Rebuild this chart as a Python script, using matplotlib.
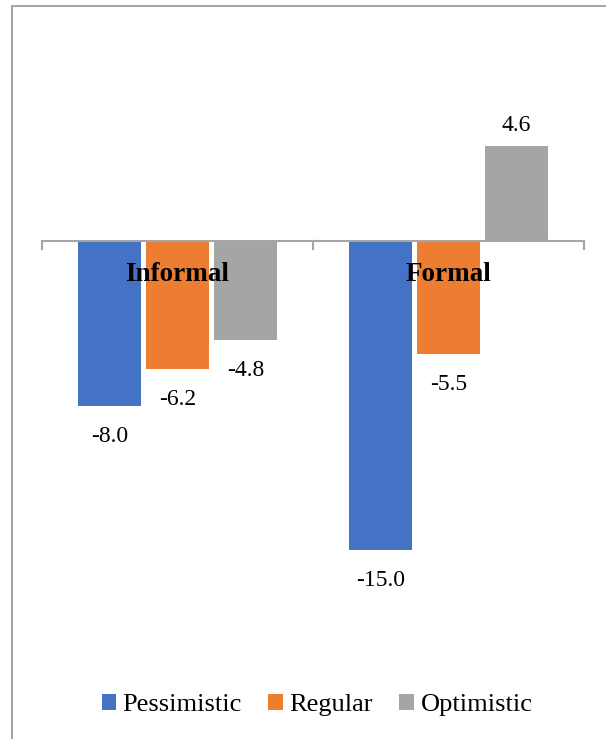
import matplotlib.pyplot as plt
import numpy as np
from matplotlib.patches import Rectangle

# Data
categories = ['Informal', 'Formal']
scenarios = ['Pessimistic', 'Regular', 'Optimistic']
pessimistic = [-8.0, -15.0]
regular = [-6.2, -5.5]
optimistic = [-4.8, 4.6]
colors = ['#4472C4', '#ED7D31', '#A5A5A5']

plt.rcParams['font.family'] = ['Liberation Serif', 'DejaVu Serif']

fig = plt.figure(figsize=(6.06, 7.39), dpi=100)
ax = fig.add_axes([42 / 606, 86 / 739, 542 / 606, 618 / 739])

x = np.arange(len(categories))
width = 0.234
step = 0.251
series = [pessimistic, regular, optimistic]

for i, (name, vals, col) in enumerate(zip(scenarios, series, colors)):
    pos = x + (i - 1) * step
    ax.bar(pos, vals, width=width, color=col, label=name)
    for p, v in zip(pos, vals):
        if v < 0:
            ax.annotate(f'{v:.1f}', (p, v), xytext=(0, -22), textcoords='offset points',
                        ha='center', va='center', fontsize=17)
        else:
            ax.annotate(f'{v:.1f}', (p, v), xytext=(0, 15), textcoords='offset points',
                        ha='center', va='center', fontsize=17)

# category labels sit just under the zero line
for xi, cat in zip(x, categories):
    ax.annotate(cat, (xi, 0), xytext=(0, -24), textcoords='offset points',
                ha='center', va='center', fontsize=19.5, fontweight='bold')

ax.set_xlim(-0.5, 1.5)
ax.set_ylim(-20, 10)
ax.axhline(0, color='#A6A6A6', linewidth=1.5, zorder=3)
for t in [-0.5, 0.5, 1.5]:
    ax.plot([t, t], [0, -0.4], color='#A6A6A6', linewidth=1.5, clip_on=False, zorder=3)
for s in ax.spines.values():
    s.set_visible(False)
ax.set_xticks([])
ax.set_yticks([])

ax.legend(loc='center', bbox_to_anchor=(317 / 606, 34 / 739), bbox_transform=fig.transFigure,
          ncol=3, frameon=False, fontsize=19, handlelength=0.55, handleheight=0.55,
          handletextpad=0.25, columnspacing=1.0)

# chart border (runs off the right and bottom edges)
fig.patches.append(Rectangle((12 / 606, -0.1), 1.2, 1.1 - 6 / 739, transform=fig.transFigure,
                             fill=False, edgecolor='#A6A6A6', linewidth=1.5))

plt.savefig('out.png', dpi=100)
